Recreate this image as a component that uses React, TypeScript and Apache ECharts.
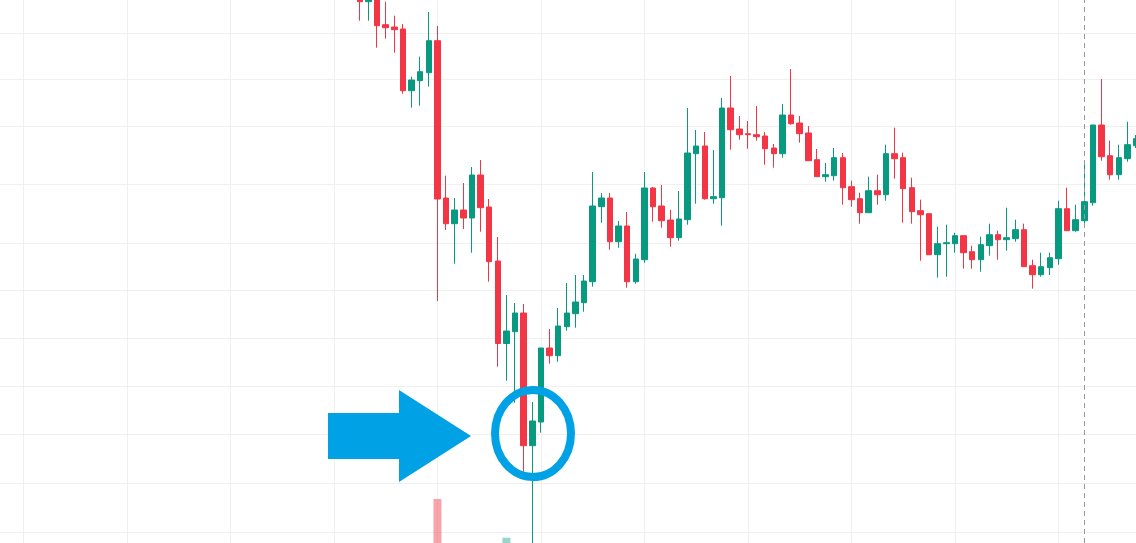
import React, { useEffect, useRef } from 'react';
import * as echarts from 'echarts';

// ---------- data ----------
const barCount = 142;
const firstBar = 51;
const categories = Array.from({ length: barCount }, (_, i) => `Bar ${i}`);

// [open, close, low, high], bars 51..141
const candles: number[][] = [
  [548, 541.3, 522.3, 555],
  [541.3, 547, 522.3, 553],
  [545, 517.3, 495.3, 549],
  [518.3, 515.3, 504.3, 541.3],
  [516, 513.3, 490.3, 527.3],
  [514, 452.3, 449.3, 519],
  [452.3, 463, 435.3, 466.3],
  [462.3, 471.3, 437.3, 486.3],
  [470.3, 502.3, 456.3, 531],
  [502.3, 344, 242, 517], // 60
  [345, 319.3, 313, 367.3],
  [319.3, 333, 279.3, 345],
  [333, 325, 314, 360],
  [325, 368, 290.3, 376],
  [368, 335.3, 311.3, 383],
  [336, 281.3, 261.3, 344],
  [282, 199.5, 176.3, 306],
  [199.5, 212, 162.3, 248],
  [211.3, 230, 140.3, 240],
  [230, 97.3, 71.3, 239], // 70
  [97.3, 122, -17, 141],
  [121, 195, 110.3, 195],
  [195, 187.3, 179.3, 214],
  [187.3, 217, 181.3, 235],
  [216.3, 230, 212.3, 260],
  [229.3, 241, 215.3, 268],
  [240.3, 262, 231.3, 268],
  [261.3, 337, 256.3, 371],
  [336.3, 345, 320.3, 350],
  [345, 301.3, 293.3, 350], // 80
  [301.3, 317, 295.3, 322],
  [317, 261.3, 255.3, 331],
  [261.3, 284, 259.3, 289.3],
  [283.3, 355, 280.3, 371],
  [355, 336.3, 321.3, 356],
  [337, 322.3, 315.3, 358],
  [323, 305.3, 296.3, 333],
  [305.3, 324, 302.3, 352],
  [323.3, 390, 318.3, 435],
  [389.3, 397, 339.3, 413], // 90
  [397, 344.3, 343.3, 411],
  [344.3, 346.3, 339.3, 393],
  [345.3, 435, 317.3, 445],
  [435, 413.3, 393.3, 467],
  [414, 408.3, 403.3, 427],
  [409.3, 408.3, 394.3, 422],
  [408.3, 406.3, 402.3, 437],
  [407, 394.3, 378.3, 411],
  [395, 389.3, 375.3, 399],
  [389.3, 428, 385.3, 439], // 100
  [428, 419.3, 418.3, 474],
  [420, 409.3, 400.3, 427],
  [410, 382.3, 382.3, 417],
  [383.3, 366.3, 366.3, 394],
  [366.3, 368.3, 361.3, 380],
  [367.3, 385.3, 362.3, 395],
  [385.3, 355.3, 338.3, 390],
  [356.3, 343.3, 336.3, 362.3],
  [344.3, 330.3, 319.3, 350.3],
  [330.3, 352.3, 330.3, 366.3], // 110
  [352.3, 348.3, 338.3, 368.3],
  [348.3, 389.3, 342.3, 398.3],
  [389.3, 384.3, 364.3, 415.3],
  [385.3, 354.3, 320.3, 390.3],
  [355.3, 331.3, 319.3, 365.3],
  [332.3, 328.3, 282.3, 343.3],
  [329.3, 288.3, 288.3, 329.3],
  [288.3, 299.3, 265.3, 316.3],
  [299.3, 300.3, 266.3, 318.3],
  [299.3, 307.3, 290.3, 310.3], // 120
  [307.3, 290.3, 274.3, 307.3],
  [291.3, 283.3, 274.3, 297.3],
  [283.3, 298.3, 271.3, 306.3],
  [297.3, 308.3, 287.3, 319.3],
  [308.3, 303.3, 283.3, 312.3],
  [303.3, 305.3, 292.3, 335.3],
  [304.3, 313.3, 301.3, 323.3],
  [313.3, 276.3, 276.3, 319.3],
  [277.3, 268.3, 254.3, 283.3],
  [268.3, 276.3, 266.3, 290.3], // 130
  [275.3, 285.3, 268, 290.3],
  [284.3, 334.3, 278.3, 342.3],
  [334.3, 312.3, 312.3, 355.3],
  [312.3, 323.3, 311.3, 338.3],
  [322.3, 341.3, 318.3, 379.3],
  [340.3, 418, 337.3, 418],
  [418, 386.3, 382.3, 464],
  [387.3, 368.3, 363.3, 402.3],
  [368.3, 385.3, 363.3, 398.3],
  [384.3, 398.3, 381.3, 421.3], // 140
  [397.3, 404.3, 395, 408],
];

// volume bars that reach into the visible area
const volumeBarIndex = [60, 68];
const volumeValues = [28, 22.4];

// horizontal grid levels (price)
const gridLevels = [10.7, 60, 108.7, 156.5, 204.5, 253, 300, 359, 416.7, 463.7, 509.7];

const crosshairBar = 135;

const UP = '#089981';
const DOWN = '#F23645';
const ANNOT = '#00A2E5';

export default function App() {
  const ref = useRef<HTMLDivElement>(null);

  useEffect(() => {
    if (!ref.current) return;
    const chart = echarts.init(ref.current, undefined, { renderer: 'svg' });

    const candleData: any[] = categories.map((_, i) =>
      i >= firstBar && i - firstBar < candles.length ? candles[i - firstBar] : '-'
    );
    const volumeData: any[] = categories.map(() => '-');
    volumeBarIndex.forEach((idx, k) => {
      const c = candles[idx - firstBar];
      const up = c[1] >= c[0];
      volumeData[idx] = {
        value: volumeValues[k],
        itemStyle: { color: up ? 'rgba(8,153,129,0.42)' : 'rgba(242,54,69,0.45)' },
      };
    });

    chart.setOption({
      animation: false,
      backgroundColor: '#ffffff',
      grid: [
        { left: -80, right: 0, top: 0, bottom: 0, outerBoundsMode: 'none', containLabel: false },
        { left: -80, right: 0, top: 0, bottom: -150, outerBoundsMode: 'none', containLabel: false },
      ],
      xAxis: [
        {
          type: 'category',
          gridIndex: 0,
          data: categories,
          boundaryGap: false,
          axisLine: { show: false },
          axisTick: { show: false },
          axisLabel: { show: false },
          splitLine: { show: true, interval: 11, lineStyle: { color: '#f0f0f0', width: 1 } },
        },
        {
          type: 'category',
          gridIndex: 1,
          data: categories,
          boundaryGap: false,
          show: false,
        },
      ],
      yAxis: [
        {
          type: 'value',
          gridIndex: 0,
          min: 0,
          max: 543,
          axisLine: { show: false },
          axisTick: { show: false, customValues: gridLevels },
          axisLabel: { show: false },
          splitLine: { show: true, lineStyle: { color: '#f0f0f0', width: 1 } },
        },
        {
          type: 'value',
          gridIndex: 1,
          min: 0,
          max: 100,
          show: false,
          splitLine: { show: false },
        },
      ],
      series: [
        {
          type: 'bar',
          xAxisIndex: 1,
          yAxisIndex: 1,
          data: volumeData,
          barWidth: 8,
          z: 1,
        },
        {
          type: 'candlestick',
          xAxisIndex: 0,
          yAxisIndex: 0,
          data: candleData,
          barWidth: 6,
          itemStyle: {
            color: UP,
            color0: DOWN,
            borderColor: UP,
            borderColor0: DOWN,
            borderWidth: 1,
          },
          markLine: {
            silent: true,
            symbol: 'none',
            label: { show: false },
            lineStyle: { type: [5, 4], color: '#9598A1', width: 1 },
            data: [{ xAxis: categories[crosshairBar] }],
          },
          z: 3,
        },
      ],
      graphic: [
        {
          type: 'polygon',
          z: 100,
          shape: {
            points: [
              [328, 413], [399, 413], [399, 390], [471, 436],
              [399, 482], [399, 459], [328, 459],
            ],
          },
          style: { fill: ANNOT },
        },
        {
          type: 'ellipse',
          z: 100,
          shape: { cx: 533, cy: 433.5, rx: 38, ry: 43.5 },
          style: { fill: 'none', stroke: ANNOT, lineWidth: 8 },
        },
      ],
    });

    return () => chart.dispose();
  }, []);

  return (
    <div
      ref={ref}
      style={{ position: 'absolute', left: 0, top: 0, width: 1136, height: 543, background: '#fff' }}
    />
  );
}
